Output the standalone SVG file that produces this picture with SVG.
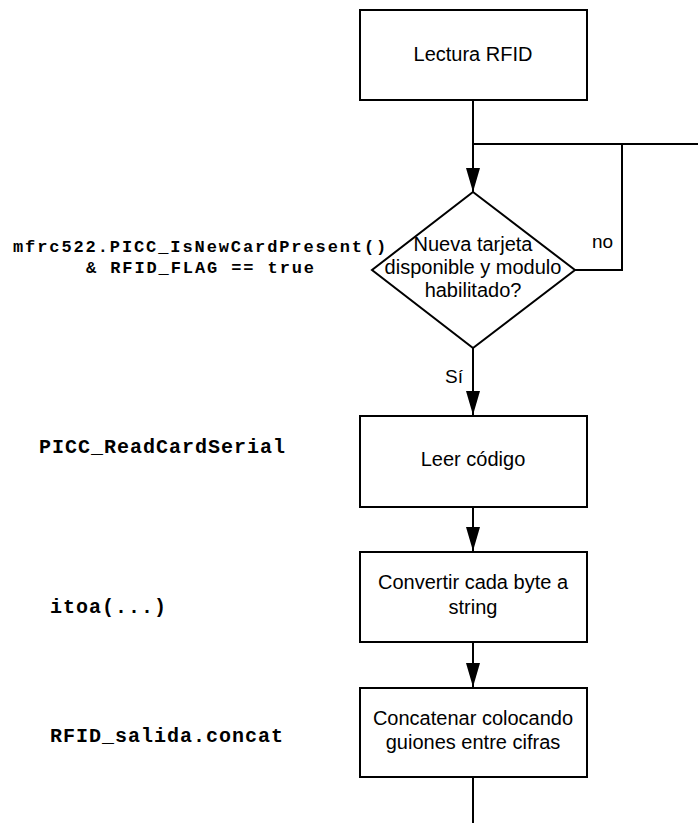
<svg xmlns="http://www.w3.org/2000/svg" width="698" height="823" viewBox="0 0 698 823">
<style>
.box{fill:#fff;stroke:#000;stroke-width:2}
.t{font-family:"Liberation Sans",Arial,sans-serif;font-size:20px;fill:#000;text-anchor:middle}
.lbl{font-family:"Liberation Sans",Arial,sans-serif;font-size:19px;fill:#000}
.code{font-family:"Liberation Mono","Courier New",monospace;font-weight:bold;fill:#000}
.c1{font-size:17px;letter-spacing:1.9px}
.c2{font-size:20px;letter-spacing:1px}
.ln{fill:none;stroke:#000;stroke-width:2}
</style>
<defs>
<marker id="ah" markerWidth="24" markerHeight="14" refX="24" refY="7" orient="auto" markerUnits="userSpaceOnUse" viewBox="0 0 24 14">
<path d="M0,0 L24,7 L0,14 Z" fill="#000"/>
</marker>
</defs>
<rect width="698" height="823" fill="#fff"/>
<g id="connectors">
<path class="ln" d="M473,100 V192" marker-end="url(#ah)"/>
<path class="ln" d="M473,144 H698"/>
<path class="ln" d="M575,270 H622 V144"/>
<path class="ln" d="M473,348 V415" marker-end="url(#ah)"/>
<path class="ln" d="M473,507 V551" marker-end="url(#ah)"/>
<path class="ln" d="M473,642 V687" marker-end="url(#ah)"/>
<path class="ln" d="M473,777 V823"/>
<text class="lbl" x="592" y="248">no</text>
<text class="lbl" x="445" y="383">Sí</text>
</g>
<g id="n1">
<rect class="box" x="360" y="10" width="227" height="90"/>
<text class="t" x="473" y="61">Lectura RFID</text>
</g>
<g id="n2">
<polygon class="box" points="473,192 575,270 473,348 372,270"/>
<text class="t" x="473" y="251">Nueva tarjeta</text>
<text class="t" x="473" y="274">disponible y modulo</text>
<text class="t" x="473" y="297">habilitado?</text>
</g>
<g id="n3">
<rect class="box" x="360" y="416" width="227" height="91"/>
<text class="t" x="473" y="466">Leer código</text>
</g>
<g id="n4">
<rect class="box" x="360" y="552" width="227" height="90"/>
<text class="t" x="473" y="589">Convertir cada byte a</text>
<text class="t" x="473" y="614">string</text>
</g>
<g id="n5">
<rect class="box" x="360" y="688" width="227" height="89"/>
<text class="t" x="473" y="725">Concatenar colocando</text>
<text class="t" x="473" y="749">guiones entre cifras</text>
</g>
<g id="notes">
<text class="code c1" x="13" y="252">mfrc522.PICC_IsNewCardPresent()</text>
<text class="code c1" x="86" y="273">&amp; RFID_FLAG == true</text>
<text class="code c2" x="39" y="453">PICC_ReadCardSerial</text>
<text class="code c2" x="50" y="613">itoa(...)</text>
<text class="code c2" x="50" y="742">RFID_salida.concat</text>
</g>
</svg>
